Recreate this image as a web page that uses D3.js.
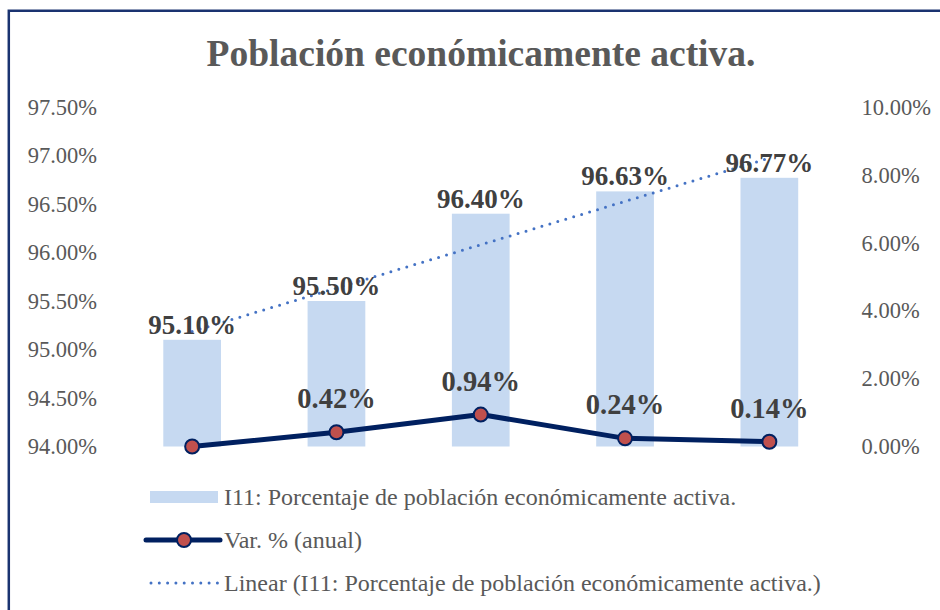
<!DOCTYPE html>
<html>
<head>
<meta charset="utf-8">
<script src="https://cdn.jsdelivr.net/npm/d3@7"></script>
<style>
  html, body { margin: 0; padding: 0; background: #fff; }
  svg { display: block; }
</style>
</head>
<body>
<svg id="chart" width="940" height="610"></svg>
<script>
const categories = ["1", "2", "3", "4", "5"];
const barValues = [95.10, 95.50, 96.40, 96.63, 96.77];
const lineValues = [0.00, 0.42, 0.94, 0.24, 0.14];
const lineLabels = [null, "0.42%", "0.94%", "0.24%", "0.14%"];
const leftTicks = [94.0, 94.5, 95.0, 95.5, 96.0, 96.5, 97.0, 97.5];
const rightTicks = [0, 2, 4, 6, 8, 10];
const titleText = "Población económicamente activa.";
const legendLabels = [
  "I11: Porcentaje de población económicamente activa.",
  "Var. % (anual)",
  "Linear (I11: Porcentaje de población económicamente activa.)"
];

const FONT = "'Liberation Serif', 'Times New Roman', serif";
const svg = d3.select("#chart");

// frame
svg.append("path")
  .attr("d", "M8.8,612 L8.8,10.8 L942,10.8")
  .attr("fill", "none").attr("stroke", "#1a3370").attr("stroke-width", 2.5);

// title
svg.append("text")
  .attr("x", 481).attr("y", 66)
  .attr("text-anchor", "middle")
  .attr("font-family", FONT).attr("font-weight", "bold")
  .attr("font-size", 37.5).attr("fill", "#595959")
  .text(titleText);

const x = d3.scaleBand().domain(categories).range([120, 841.5])
  .paddingInner(0.6).paddingOuter(0.3);
const yL = d3.scaleLinear().domain([94, 97.5]).range([446.5, 107]);
const yR = d3.scaleLinear().domain([0, 10]).range([446.5, 107]);

// axes
const axL = svg.append("g").attr("transform", "translate(120,0)")
  .call(d3.axisLeft(yL).tickValues(leftTicks).tickSize(0).tickPadding(23)
    .tickFormat(d => d.toFixed(2) + "%"));
const axR = svg.append("g").attr("transform", "translate(841.5,0)")
  .call(d3.axisRight(yR).tickValues(rightTicks).tickSize(0).tickPadding(20)
    .tickFormat(d => d.toFixed(2) + "%"));
[axL, axR].forEach(a => {
  a.select(".domain").remove();
  a.selectAll("text").attr("font-family", FONT).attr("font-size", 22.5)
    .attr("fill", "#595959");
});

// bars
svg.append("g").selectAll("rect").data(barValues).join("rect")
  .attr("x", (d, i) => x(categories[i]))
  .attr("width", x.bandwidth())
  .attr("y", d => yL(d))
  .attr("height", d => yL(94) - yL(d))
  .attr("fill", "#c6d9f1");

// trendline (least squares on bar values)
const n = barValues.length;
const xs = d3.range(1, n + 1);
const mx = d3.mean(xs), my = d3.mean(barValues);
const slope = d3.sum(xs, (v, i) => (v - mx) * (barValues[i] - my)) / d3.sum(xs, v => (v - mx) ** 2);
const icpt = my - slope * mx;
const cx = c => x(c) + x.bandwidth() / 2;
svg.append("line")
  .attr("x1", cx(categories[0])).attr("y1", yL(icpt + slope * 1))
  .attr("x2", cx(categories[n - 1])).attr("y2", yL(icpt + slope * n))
  .attr("stroke", "#4472c4").attr("stroke-width", 3)
  .attr("stroke-linecap", "round").attr("stroke-dasharray", "0 8.3");

// bar labels
svg.append("g").selectAll("text").data(barValues).join("text")
  .attr("x", (d, i) => cx(categories[i]))
  .attr("y", d => yL(d) - 6)
  .attr("text-anchor", "middle")
  .attr("font-family", FONT).attr("font-weight", "bold").attr("font-size", 27)
  .attr("fill", "#404040")
  .text(d => d.toFixed(2) + "%");

// line series
const line = d3.line().x((d, i) => cx(categories[i])).y(d => yR(d));
svg.append("path").datum(lineValues)
  .attr("d", line).attr("fill", "none")
  .attr("stroke", "#002060").attr("stroke-width", 5).attr("stroke-linejoin", "round");
svg.append("g").selectAll("circle").data(lineValues).join("circle")
  .attr("cx", (d, i) => cx(categories[i])).attr("cy", d => yR(d))
  .attr("r", 7).attr("fill", "#c0504d").attr("stroke", "#002060").attr("stroke-width", 2);
svg.append("g").selectAll("text").data(lineValues).join("text")
  .attr("x", (d, i) => cx(categories[i]))
  .attr("y", d => yR(d) - 24)
  .attr("text-anchor", "middle")
  .attr("font-family", FONT).attr("font-weight", "bold").attr("font-size", 28.5)
  .attr("fill", "#404040")
  .text((d, i) => lineLabels[i] || "");

// legend
const lg = svg.append("g");
const rows = [497, 540, 583];
lg.append("rect").attr("x", 150).attr("y", rows[0] - 6).attr("width", 68).attr("height", 12)
  .attr("fill", "#c6d9f1");
lg.append("line").attr("x1", 146).attr("x2", 220).attr("y1", rows[1]).attr("y2", rows[1])
  .attr("stroke", "#002060").attr("stroke-width", 5).attr("stroke-linecap", "round");
lg.append("circle").attr("cx", 184).attr("cy", rows[1]).attr("r", 7)
  .attr("fill", "#c0504d").attr("stroke", "#002060").attr("stroke-width", 2);
lg.append("line").attr("x1", 151).attr("x2", 218).attr("y1", rows[2]).attr("y2", rows[2])
  .attr("stroke", "#4472c4").attr("stroke-width", 3)
  .attr("stroke-linecap", "round").attr("stroke-dasharray", "0 8.3");
lg.selectAll("text.lt").data(legendLabels).join("text")
  .attr("class", "lt")
  .attr("x", 224).attr("y", (d, i) => rows[i] + 8)
  .attr("font-family", FONT).attr("font-size", 24).attr("fill", "#595959")
  .text(d => d);
</script>
</body>
</html>
